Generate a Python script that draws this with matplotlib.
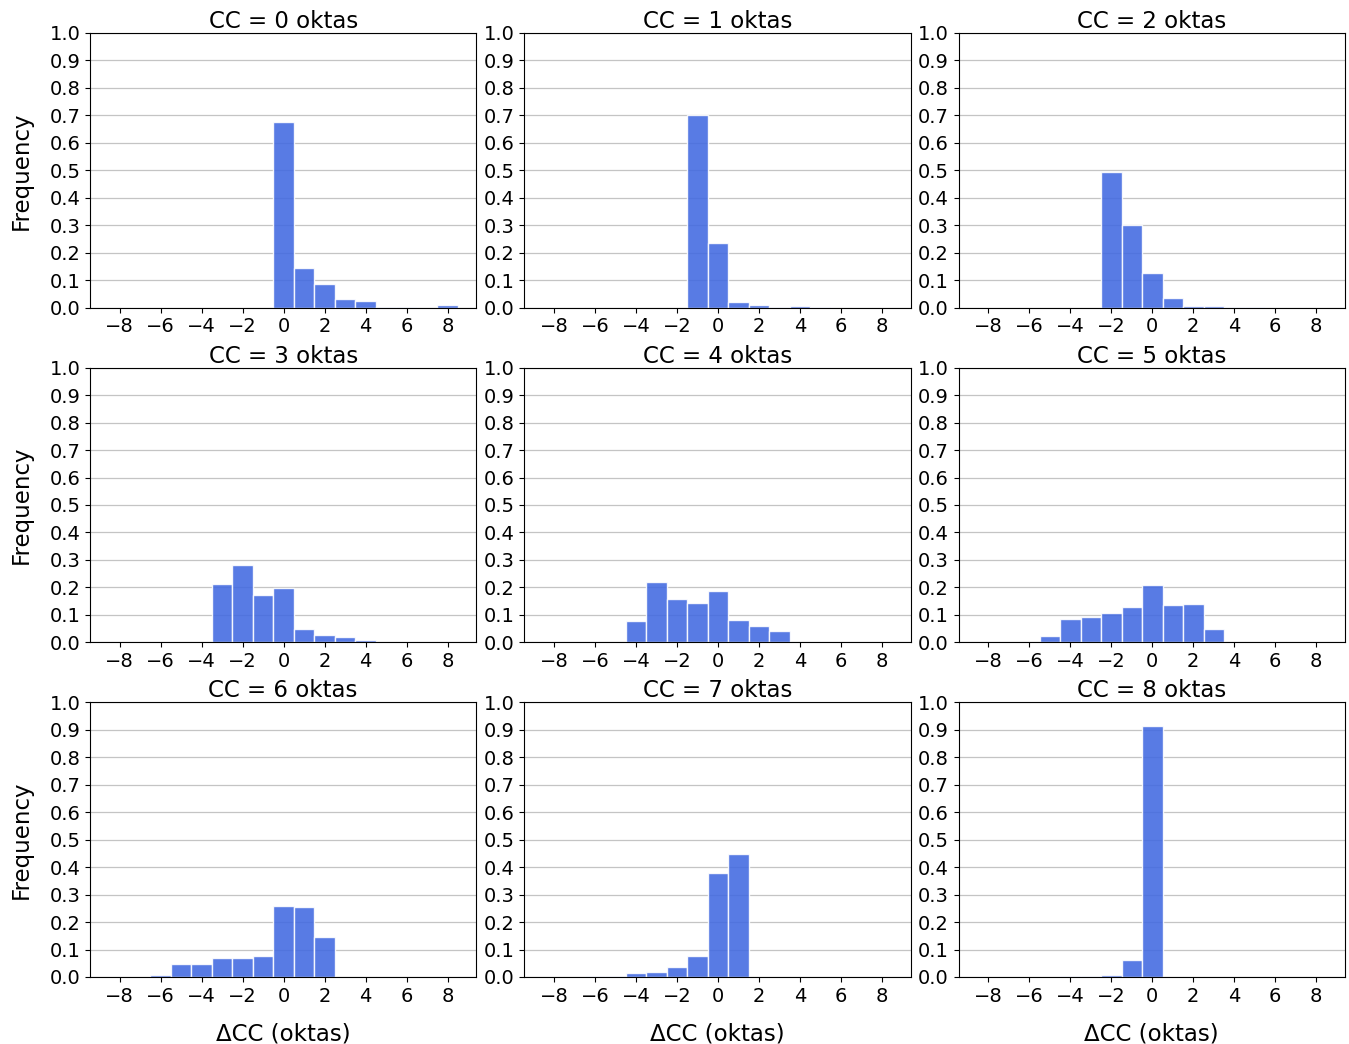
import matplotlib
matplotlib.use("Agg")
import matplotlib.pyplot as plt
import numpy as np

bins = list(range(-8, 9))
cc_levels = [0, 1, 2, 3, 4, 5, 6, 7, 8]

#            -8     -7     -6     -5     -4     -3     -2     -1     0      1      2      3      4      5      6      7      8
freq_cc0 = [0,     0,     0,     0,     0,     0,     0,     0,     0.675, 0.144, 0.086, 0.032, 0.024, 0.003, 0.003, 0,     0.010]
freq_cc1 = [0,     0,     0,     0,     0,     0,     0,     0.700, 0.235, 0.022, 0.010, 0.004, 0.007, 0.002, 0,     0,     0]
freq_cc2 = [0,     0,     0,     0,     0,     0,     0.495, 0.300, 0.126, 0.036, 0.007, 0.007, 0.004, 0.002, 0,     0,     0]
freq_cc3 = [0,     0,     0,     0,     0,     0.213, 0.281, 0.172, 0.198, 0.048, 0.026, 0.019, 0.009, 0.002, 0,     0,     0]
freq_cc4 = [0,     0,     0,     0,     0.078, 0.221, 0.159, 0.143, 0.186, 0.081, 0.059, 0.043, 0,     0,     0,     0,     0]
freq_cc5 = [0,     0,     0,     0.024, 0.085, 0.094, 0.106, 0.129, 0.208, 0.135, 0.140, 0.048, 0,     0,     0,     0,     0]
freq_cc6 = [0,     0,     0.007, 0.048, 0.048, 0.070, 0.070, 0.077, 0.257, 0.254, 0.145, 0,     0,     0,     0,     0,     0]
freq_cc7 = [0,     0.001, 0.004, 0.004, 0.013, 0.019, 0.035, 0.077, 0.378, 0.447, 0,     0,     0,     0,     0,     0,     0]
freq_cc8 = [0,     0,     0,     0,     0.002, 0.002, 0.007, 0.060, 0.915, 0,     0,     0,     0,     0,     0,     0,     0]

all_freqs = [freq_cc0, freq_cc1, freq_cc2, freq_cc3, freq_cc4, freq_cc5, freq_cc6, freq_cc7, freq_cc8]

fig, axes = plt.subplots(3, 3, figsize=(13.49, 10.44), dpi=100)
fig.subplots_adjust(left=0.0667, right=0.997, top=0.9684, bottom=0.0642,
                    wspace=0.124, hspace=0.218)

for i, (ax, cc, freqs) in enumerate(zip(axes.flat, cc_levels, all_freqs)):
    ax.set_axisbelow(True)
    ax.grid(axis='y', color='#c4c4c4', linewidth=0.9)
    ax.bar(bins, freqs, width=1.0, color='royalblue', alpha=0.88,
           edgecolor='white', linewidth=1.0)
    ax.set_xlim(-9.45, 9.4)
    ax.set_ylim(0, 1.0)
    ax.set_yticks(np.arange(0, 1.01, 0.1))
    ax.set_yticklabels([f"{v:.1f}" for v in np.arange(0, 1.01, 0.1)])
    ax.set_xticks(range(-8, 9, 2))
    ax.tick_params(labelsize=14)
    ax.set_title(f"CC = {cc} oktas", fontsize=16.5, pad=3)
    if i % 3 == 0:
        ax.set_ylabel("Frequency", fontsize=16.5, labelpad=12)
    if i >= 6:
        ax.set_xlabel("ΔCC (oktas)", fontsize=16.5, labelpad=12)

fig.savefig("out.png", dpi=100)
